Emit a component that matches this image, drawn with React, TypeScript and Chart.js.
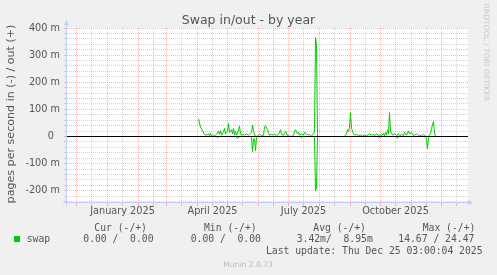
import React, { useEffect, useRef } from "react";
import { Chart, registerables } from "chart.js";

Chart.register(...registerables);

// x values are days counted from 1 Dec 2024
const X_MIN = -9.5;
const X_MAX = 391.5;
const Y_MIN = -245;
const Y_MAX = 400;

const monthStartDays = [0, 31, 62, 90, 121, 151, 182, 212, 243, 274, 304, 335, 365];
const midMonthDays = [15, 46, 77, 105, 136, 166, 197, 227, 258, 289, 319, 350, 380];
const labelDays = [46, 136, 227, 319];
const labelTexts = ["January 2025", "April 2025", "July 2025", "October 2025"];

const yTicks = [-240, -220, -200, -180, -160, -140, -120, -100, -80, -60, -40, -20, 0, 20, 40, 60, 80, 100, 120, 140, 160, 180, 200, 220, 240, 260, 280, 300, 320, 340, 360, 380, 400];

// swap out (+), in milli-pages per second
const outDays = [
  122, 123, 124, 126, 128, 130, 132, 133, 134, 135,
  137, 138, 140, 142, 143, 144, 145, 147, 148, 149,
  150, 151, 152, 153, 155, 156, 157, 158, 159, 160,
  161, 162, 163, 164, 165, 167, 168, 170, 172, 173,
  175, 176, 177, 178, 180, 182, 183, 185, 187, 188,
  189, 191, 192, 193, 195, 197, 198, 200, 202, 203,
  204, 205, 207, 208, 209, 211, 212, 213, 215, 217,
  218, 219, 221, 222, 223, 225, 227, 228, 230, 232,
  233, 235, 237, 238, 239, 240, 241, 250, 260, 268,
  269, 270, 271, 272, 273, 274, 275, 276, 277, 278,
  280, 282, 284, 286, 288, 290, 292, 293, 295, 297,
  298, 300, 302, 303, 304, 305, 307, 308, 309, 310,
  311, 312, 313, 314, 315, 317, 318, 320, 322, 323,
  325, 327, 328, 330, 332, 333, 335, 337, 338, 340,
  342, 343, 345, 347, 348, 350, 351, 353, 354, 355,
  357, 358, 359,
];
const outPages = [
  64, 50, 35, 22, 8, 5, 10, 3, 12, 0,
  5, 2, 8, 20, 8, 22, 5, 18, 30, 10,
  15, 20, 48, 15, 25, 10, 30, 5, 20, 5,
  10, 25, 38, 10, 5, 8, 5, 10, 5, 8,
  15, 42, 20, 5, 0, 5, 8, 4, 5, 35,
  40, 25, 15, 5, 8, 5, 10, 3, 8, 15,
  25, 8, 5, 12, 20, 3, 5, 2, 0, 5,
  20, 25, 10, 15, 5, 10, 5, 15, 10, 5,
  8, 3, 10, 20, 365, 340, 0, 0, 0, 0,
  5, 10, 25, 18, 35, 88, 30, 20, 10, 5,
  8, 3, 6, 2, 5, 3, 7, 10, 5, 8,
  3, 10, 5, 0, 8, 3, 12, 2, 15, 5,
  25, 10, 88, 20, 10, 5, 12, 3, 10, 0,
  8, 3, 15, 5, 20, 10, 15, 3, 5, 10,
  3, 5, 2, 8, 3, 0, 0, 5, 10, 30,
  55, 15, 0,
];

// swap in (-), plotted below zero
const inDays = [
  122, 140, 141, 142, 160, 161, 162, 163, 175, 176,
  177, 178, 179, 180, 181, 224, 225, 226, 238, 239,
  240, 241, 302, 303, 304, 320, 321, 322, 349, 350,
  351, 352, 353, 359,
];
const inPages = [
  0, 0, -4, 0, 0, -7, -3, 0, 0, -56,
  -10, -8, -52, -5, 0, 0, -5, 0, 0, -200,
  -190, 0, 0, -5, 0, 0, -6, 0, 0, -10,
  -45, -5, 0, 0,
];

const TEXT = "#555555";
const GREEN = "#00cc00";
const MAJOR = "rgba(240,70,70,0.38)";
const MINOR = "rgba(150,150,150,0.42)";
const AXIS = "rgb(196,204,250)";

const decor = {
  id: "decor",
  beforeDraw(chart: any) {
    const { ctx, chartArea: a, width, height } = chart;
    ctx.save();
    ctx.fillStyle = "#f0f0f0";
    ctx.fillRect(0, 0, width, height);
    ctx.fillStyle = "#ffffff";
    ctx.fillRect(a.left, a.top, a.right - a.left, a.bottom - a.top);
    ctx.restore();
  },
  afterDraw(chart: any) {
    const { ctx, chartArea: a } = chart;
    ctx.save();
    // axes with arrows
    ctx.strokeStyle = AXIS;
    ctx.fillStyle = AXIS;
    ctx.lineWidth = 1;
    ctx.beginPath();
    ctx.moveTo(a.left - 0.5, a.bottom + 3);
    ctx.lineTo(a.left - 0.5, a.top - 5);
    ctx.moveTo(a.left - 4, a.bottom - 0.5);
    ctx.lineTo(a.right + 2, a.bottom - 0.5);
    ctx.stroke();
    ctx.beginPath();
    ctx.moveTo(a.left - 3, a.top - 3);
    ctx.lineTo(a.left + 2, a.top - 3);
    ctx.lineTo(a.left - 0.5, a.top - 8);
    ctx.closePath();
    ctx.fill();
    ctx.beginPath();
    ctx.moveTo(a.right, a.bottom - 3);
    ctx.lineTo(a.right, a.bottom + 2);
    ctx.lineTo(a.right + 5, a.bottom - 0.5);
    ctx.closePath();
    ctx.fill();

    // title
    ctx.fillStyle = TEXT;
    ctx.font = '12.5px "DejaVu Sans"';
    ctx.textAlign = "center";
    ctx.textBaseline = "alphabetic";
    ctx.fillText("Swap in/out - by year", 248.5, 23.5);

    // y axis title
    ctx.save();
    ctx.translate(14, 114);
    ctx.rotate(-Math.PI / 2);
    ctx.font = '11.1px "DejaVu Sans"';
    ctx.textAlign = "center";
    ctx.textBaseline = "alphabetic";
    ctx.fillText("pages per second in (-) / out (+)", 0, 0);
    ctx.restore();

    // watermark
    ctx.save();
    ctx.translate(483.5, 52.5);
    ctx.rotate(Math.PI / 2);
    ctx.fillStyle = "#c8c8c8";
    ctx.font = '7.6px "DejaVu Sans"';
    ctx.textAlign = "center";
    ctx.textBaseline = "alphabetic";
    ctx.fillText("RRDTOOL / TOBI OETIKER", 0, 0);
    ctx.restore();

    // legend
    ctx.fillStyle = TEXT;
    ctx.font = '9.72px "DejaVu Sans Mono"';
    ctx.textAlign = "left";
    ctx.textBaseline = "alphabetic";
    ctx.fillText("Cur (-/+)", 94.3, 230.5);
    ctx.fillText("Min (-/+)", 204, 230.5);
    ctx.fillText("Avg (-/+)", 313.3, 230.5);
    ctx.fillText("Max (-/+)", 422.7, 230.5);
    ctx.fillText("swap", 26.7, 241.7);
    ctx.fillText("0.00 /  0.00", 83.3, 241.7);
    ctx.fillText("0.00 /  0.00", 190.7, 241.7);
    ctx.fillText("3.42m/  8.95m", 296.7, 241.7);
    ctx.fillText("14.67 / 24.47", 398.3, 241.7);
    ctx.textAlign = "right";
    ctx.fillText("Last update: Thu Dec 25 03:00:04 2025", 482.5, 254);
    ctx.fillStyle = GREEN;
    ctx.fillRect(14, 236, 6, 6);

    ctx.fillStyle = "#bbbbbb";
    ctx.font = '7.6px "DejaVu Sans"';
    ctx.textAlign = "center";
    ctx.fillText("Munin 2.0.73", 248, 267.3);
    ctx.restore();
  },
};

export default function App() {
  const ref = useRef<HTMLCanvasElement>(null);
  useEffect(() => {
    document.body.style.margin = "0";
    document.body.style.background = "#f0f0f0";
    const isMonthStart = (v: number) => monthStartDays.indexOf(v) >= 0;
    const chart = new Chart(ref.current as HTMLCanvasElement, {
      type: "line",
      data: {
        datasets: [
          {
            label: "zero",
            data: [{ x: X_MIN, y: 0 }, { x: X_MAX, y: 0 }],
            borderColor: "#000000",
            borderWidth: 1,
            pointRadius: 0,
            order: 0,
          },
          {
            label: "swap out",
            data: outDays.map((d, i) => ({ x: d, y: outPages[i] })),
            borderColor: GREEN,
            borderWidth: 1,
            pointRadius: 0,
            tension: 0,
            order: 1,
          },
          {
            label: "swap in",
            data: inDays.map((d, i) => ({ x: d, y: inPages[i] })),
            borderColor: GREEN,
            borderWidth: 1,
            pointRadius: 0,
            tension: 0,
            order: 1,
          },
        ],
      },
      options: {
        responsive: false,
        animation: false,
        devicePixelRatio: 1,
        layout: { padding: { left: 0, top: 28, right: 29, bottom: 0 } },
        plugins: {
          legend: { display: false },
          title: { display: false },
          tooltip: { enabled: false },
        },
        scales: {
          x: {
            type: "linear",
            min: X_MIN,
            max: X_MAX,
            afterBuildTicks: (scale: any) => {
              scale.ticks = [...monthStartDays, ...midMonthDays]
                .sort((p, q) => p - q)
                .map((v) => ({ value: v }));
            },
            afterFit: (scale: any) => {
              scale.height = 72;
            },
            grid: {
              color: (c: any) => (isMonthStart(c.tick?.value) ? MAJOR : MINOR),
              lineWidth: 1,
              drawTicks: true,
              tickLength: 3,
            },
            border: { display: false, dash: [1, 1] },
            ticks: {
              autoSkip: false,
              maxRotation: 0,
              minRotation: 0,
              padding: 0,
              color: TEXT,
              font: { family: "DejaVu Sans", size: 9.72 },
              callback: (v: any) => {
                const i = labelDays.indexOf(Number(v));
                return i >= 0 ? labelTexts[i] : "";
              },
            },
          },
          y: {
            type: "linear",
            min: Y_MIN,
            max: Y_MAX,
            afterBuildTicks: (scale: any) => {
              scale.ticks = yTicks.map((v) => ({ value: v }));
            },
            afterFit: (scale: any) => {
              scale.width = 67;
            },
            grid: {
              color: (c: any) => (c.tick && c.tick.value % 100 === 0 ? MAJOR : MINOR),
              lineWidth: 1,
              drawTicks: true,
              tickLength: 3,
            },
            border: { display: false, dash: [1, 1] },
            ticks: {
              autoSkip: false,
              padding: 4,
              color: TEXT,
              font: { family: "DejaVu Sans", size: 9.72 },
              callback: (v: any) => {
                const n = Number(v);
                if (n % 100 !== 0) return "";
                return n === 0 ? "0  " : `${n} m`;
              },
            },
          },
        },
      },
      plugins: [decor],
    } as any);
    return () => chart.destroy();
  }, []);
  return (
    <canvas
      ref={ref}
      width={497}
      height={275}
      style={{ display: "block", width: 497, height: 275 }}
    />
  );
}
